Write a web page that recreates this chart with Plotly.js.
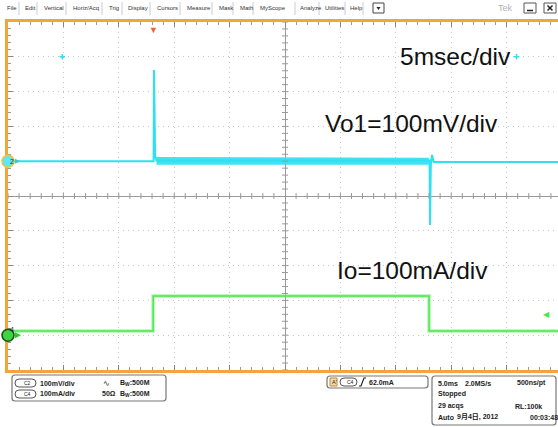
<!DOCTYPE html>
<html><head><meta charset="utf-8">
<script src="https://cdn.plot.ly/plotly-3.0.1.min.js"></script>
<style>html,body{margin:0;padding:0;background:#fff}#chart{width:558px;height:427px}</style>
</head><body><div id="chart"></div>
<script>
// ---------- data ----------
// time in ms, 5 ms/div
const vo1Time = [-25, -11.86, -11.82, -11.78, -11.72, -11.6, 12.98, 13.05, 13.09, 13.16, 13.27, 13.42, 24.64];
const vo1mV   = [0, 0, 262, 70, 14, 2, 2, 2, -183, -10, 18, -2, -2];
// noise envelope of Vo1 while the load is on
const vo1BandTime = [-11.6, 12.98];
const vo1BandHi   = [12, 10];
const vo1BandLo   = [-10, -10];
// Io (CH4) in mA
const ioTime = [-25, -11.9, -11.9, 13.0, 13.0, 24.64];
const iomA   = [12, 12, 113, 113, 12, 12];
// channel settings
const vo1Scale = 100, vo1OffsetDiv = 1;   // 100 mV/div, ground +1 div
const ioScale = 100,  ioOffsetDiv = -4;   // 100 mA/div, ground -4 div
const trigLevelmA = 62, trigTime = -11.9;
const cursorTimes = [-20.1, 20.9], cursorDiv = 4;
// texts
const menuItems = ["File","Edit","Vertical","Horiz/Acq","Trig","Display","Cursors","Measure","Mask","Math","MyScope","Analyze","Utilities","Help"];
const labelTexts = ["5msec/div","Vo1=100mV/div","Io=100mA/div"];

// ---------- helpers ----------
const L = 8, T = 22, W = 550, H = 348;
const X = px => (px - L) / W;
const Y = py => (T + H - py) / H;
const toDiv = (arr, s, o) => arr.map(v => v / s + o);

const CYAN = '#2fe0f2', GREEN = '#4ae64a', ORANGE = '#f3a53a';
const FONT = 'Liberation Sans, Arial, Noto Sans CJK JP';

const traces = [
  {x: vo1BandTime.concat(vo1BandTime.slice().reverse()),
   y: toDiv(vo1BandHi, vo1Scale, vo1OffsetDiv).concat(toDiv(vo1BandLo, vo1Scale, vo1OffsetDiv).reverse()),
   fill: 'toself', fillcolor: 'rgba(45,222,242,0.9)', line: {width: 0}, mode: 'lines', hoverinfo: 'skip'},
  {x: vo1Time, y: toDiv(vo1mV, vo1Scale, vo1OffsetDiv), mode: 'lines', line: {color: CYAN, width: 2}},
  {x: ioTime, y: toDiv(iomA, ioScale, ioOffsetDiv), mode: 'lines', line: {color: 'rgba(120,240,120,0.45)', width: 4}},
  {x: ioTime, y: toDiv(iomA, ioScale, ioOffsetDiv), mode: 'lines', line: {color: GREEN, width: 1.5}},
  {x: cursorTimes, y: cursorTimes.map(() => cursorDiv), mode: 'markers', marker: {color: CYAN, size: 4, symbol: 'cross-thin', line: {color: CYAN, width: 1.5}}}
];

const shapes = [];
const annotations = [];
// center-line ticks
for (let i = -25; i <= 25; i += 1) {
  if (i === 0) continue;
  shapes.push({type: 'line', xref: 'x', yref: 'y', x0: i, x1: i, ysizemode: 'pixel', yanchor: 0, y0: -3, y1: 3, line: {color: '#999', width: 1}});
}
for (let k = -25; k <= 25; k += 1) {
  const j = k / 5;
  if (k === 0) continue;
  shapes.push({type: 'line', xref: 'x', yref: 'y', y0: j, y1: j, xsizemode: 'pixel', xanchor: 0, x0: -3, x1: 3, line: {color: '#999', width: 1}});
}
// channel ground markers
function circ(cx, cy, r, fill, stroke) {
  shapes.push({type: 'circle', xref: 'paper', yref: 'paper', xsizemode: 'pixel', ysizemode: 'pixel',
    xanchor: X(cx), yanchor: Y(cy), x0: -r, x1: r, y0: -r, y1: r, fillcolor: fill, line: {color: stroke, width: 1.5}, layer: 'above'});
}
const ch2y = T + H / 2 - vo1OffsetDiv * H / 10;
const ch4y = T + H / 2 - ioOffsetDiv * H / 10;
circ(8, ch2y, 6, '#5ce8f5', '#f3c040');
circ(8, ch4y, 6, '#3ed43e', '#1c4a1c');
annotations.push({xref: 'paper', yref: 'paper', x: X(8), y: Y(ch2y), text: '2', showarrow: false, font: {size: 7, color: '#333', family: FONT}});
annotations.push({xref: 'paper', yref: 'paper', x: X(8), y: Y(ch4y), text: '4', showarrow: false, font: {size: 7, color: '#123', family: FONT}});
// small pointers next to channel markers
shapes.push({type: 'path', xref: 'paper', yref: 'paper', path: `M${X(15)},${Y(ch2y - 2.5)} L${X(20)},${Y(ch2y)} L${X(15)},${Y(ch2y + 2.5)} Z`, fillcolor: '#3cc', line: {width: 0}});
shapes.push({type: 'path', xref: 'paper', yref: 'paper', path: `M${X(15)},${Y(ch4y - 3)} L${X(21)},${Y(ch4y)} L${X(15)},${Y(ch4y + 3)} Z`, fillcolor: '#2c2', line: {width: 0}});
// trigger position and level markers
annotations.push({xref: 'x', yref: 'paper', x: trigTime, y: 1, yanchor: 'top', yshift: 1, text: '▼', showarrow: false, font: {size: 9, color: '#f0603a'}});
annotations.push({xref: 'paper', yref: 'y', x: X(552), y: trigLevelmA / ioScale + ioOffsetDiv, text: '◀', showarrow: false, font: {size: 8, color: GREEN}});
// big labels
const labelPos = [[398, 57], [323, 123], [335, 270]];
labelTexts.forEach((t, i) => annotations.push({xref: 'paper', yref: 'paper', x: X(labelPos[i][0]), y: Y(labelPos[i][1]),
  xanchor: 'left', yanchor: 'middle', text: t, showarrow: false, font: {size: 24.5, color: '#111', family: FONT}}));

// menu bar
const menuX = [5, 23, 42, 71, 107, 126, 155, 185, 217, 238, 258, 298, 323, 348];
const sepX = [19, 37, 66, 102, 122, 150, 180, 212, 233, 253, 295, 319, 345, 363];
menuItems.forEach((m, i) => annotations.push({xref: 'paper', yref: 'paper', x: X(menuX[i]), y: Y(8), xanchor: 'left', yanchor: 'middle',
  text: m, showarrow: false, font: {size: 6, color: '#333', family: FONT}}));
sepX.forEach(s => shapes.push({type: 'line', xref: 'paper', yref: 'paper', x0: X(s), x1: X(s), y0: Y(2), y1: Y(15), line: {color: '#c8ccd8', width: 1}}));
function rect(x0, y0, x1, y1, fill, stroke, w) {
  shapes.push({type: 'rect', xref: 'paper', yref: 'paper', x0: X(x0), x1: X(x1), y0: Y(y1), y1: Y(y0), fillcolor: fill, line: {color: stroke, width: w || 1}});
}
rect(373, 3, 384, 13, '#fff', '#444', 1);
shapes.push({type: 'path', xref: 'paper', yref: 'paper', path: `M${X(376.5)},${Y(7)} L${X(380.5)},${Y(7)} L${X(378.5)},${Y(10)} Z`, fillcolor: '#222', line: {width: 0}});
annotations.push({xref: 'paper', yref: 'paper', x: X(496), y: Y(8), xanchor: 'left', yanchor: 'middle', text: 'Tek', showarrow: false, font: {size: 9, color: '#b0b0b0', family: FONT}});
rect(524, 3, 536, 13, '#fff', '#555', 1);
rect(544, 3, 556, 13, '#fff', '#555', 1);
shapes.push({type: 'line', xref: 'paper', yref: 'paper', x0: X(527), x1: X(533), y0: Y(10.5), y1: Y(10.5), line: {color: '#222', width: 1.5}});
shapes.push({type: 'line', xref: 'paper', yref: 'paper', x0: X(547.5), x1: X(552.5), y0: Y(5.5), y1: Y(10.5), line: {color: '#222', width: 1.5}});
shapes.push({type: 'line', xref: 'paper', yref: 'paper', x0: X(547.5), x1: X(552.5), y0: Y(10.5), y1: Y(5.5), line: {color: '#222', width: 1.5}});

// rounded rect path
function rr(x0, y0, x1, y1, r, stroke, fill, w) {
  const p = `M${X(x0 + r)},${Y(y0)} L${X(x1 - r)},${Y(y0)} Q${X(x1)},${Y(y0)} ${X(x1)},${Y(y0 + r)} L${X(x1)},${Y(y1 - r)} Q${X(x1)},${Y(y1)} ${X(x1 - r)},${Y(y1)} L${X(x0 + r)},${Y(y1)} Q${X(x0)},${Y(y1)} ${X(x0)},${Y(y1 - r)} L${X(x0)},${Y(y0 + r)} Q${X(x0)},${Y(y0)} ${X(x0 + r)},${Y(y0)} Z`;
  shapes.push({type: 'path', xref: 'paper', yref: 'paper', path: p, fillcolor: fill || 'rgba(0,0,0,0)', line: {color: stroke, width: w || 1}});
}
function txt(t, x, y, size, opts) {
  annotations.push(Object.assign({xref: 'paper', yref: 'paper', x: X(x), y: Y(y), xanchor: 'left', yanchor: 'middle', text: t, showarrow: false,
    font: {size: size || 7, color: '#222', family: FONT}}, opts || {}));
}
// readout panels
rr(12, 375, 166, 401, 3, '#777', '#fff', 1.2);
rr(15, 379, 36, 387, 4, '#555', '#fff', 1);
rr(15, 390, 36, 398, 4, '#555', '#fff', 1);
txt('C2', 21.5, 383, 5); txt('C4', 21.5, 394, 5);
txt('<b>100mV/div</b>', 38, 383, 7); txt('<b>100mA/div</b>', 38, 394, 7);
txt('∿', 101, 383, 8); txt('<b>50Ω</b>', 100, 394, 7);
txt('<b>B<sub>W</sub>:500M</b>', 118, 383, 7); txt('<b>B<sub>W</sub>:500M</b>', 118, 394, 7);

rr(327, 376, 428, 388, 3, '#777', '#fff', 1.2);
rect(330, 378, 337, 386, '#f5d9a8', '#c98a30', 1);
txt("A'", 330.5, 382, 5.5);
rr(340, 378, 357, 386, 4, '#555', '#fff', 1);
txt('C4', 344.5, 382, 5);
shapes.push({type: 'path', xref: 'paper', yref: 'paper', path: `M${X(359)},${Y(386)} L${X(361)},${Y(386)} L${X(364)},${Y(378)} L${X(366)},${Y(378)}`, line: {color: '#222', width: 1.2}});
txt('<b>62.0mA</b>', 367, 382, 7);

rr(432, 376, 556, 425, 3, '#777', '#fff', 1.2);
txt('<b>5.0ms</b>', 436, 383, 7); txt('<b>2.0MS/s</b>', 463, 383, 7); txt('<b>500ns/pt</b>', 515, 383, 7);
txt('<b>Stopped</b>', 436, 394, 7);
txt('<b>29 acqs</b>', 436, 406, 7); txt('<b>RL:100k</b>', 513, 406, 7);
txt('<b>Auto</b>', 436, 417, 7); txt('<b>9月4日, 2012</b>', 455, 417, 7); txt('<b>00:03:48</b>', 528, 417, 7);

const layout = {
  width: 558, height: 427,
  margin: {l: L, r: 0, t: T, b: 427 - T - H, pad: 0},
  paper_bgcolor: '#fff', plot_bgcolor: '#fff',
  showlegend: false,
  xaxis: {range: [-25, -25 + 10 * W / 554 * 5], dtick: 5, tick0: 0, showgrid: true, gridcolor: '#c4c4c4', griddash: '1px,4px', gridwidth: 1,
    zeroline: true, zerolinecolor: '#9a9a9a', zerolinewidth: 1, showticklabels: false,
    showline: true, linecolor: ORANGE, linewidth: 3, mirror: 'ticks', ticks: 'inside', ticklen: 5, tickcolor: '#888',
    minor: {dtick: 1, ticks: 'inside', ticklen: 3, tickcolor: '#999', showgrid: false}, fixedrange: true},
  yaxis: {range: [-5, 5], dtick: 1, tick0: 0, showgrid: true, gridcolor: '#c4c4c4', griddash: '1px,4px', gridwidth: 1,
    zeroline: true, zerolinecolor: '#9a9a9a', zerolinewidth: 1, showticklabels: false,
    showline: true, linecolor: ORANGE, linewidth: 3, mirror: false, ticks: 'inside', ticklen: 5, tickcolor: '#888',
    minor: {dtick: 0.2, ticks: 'inside', ticklen: 3, tickcolor: '#999', showgrid: false}, fixedrange: true},
  shapes: shapes, annotations: annotations
};
Plotly.newPlot('chart', traces, layout, {staticPlot: true, displayModeBar: false});
</script></body></html>
